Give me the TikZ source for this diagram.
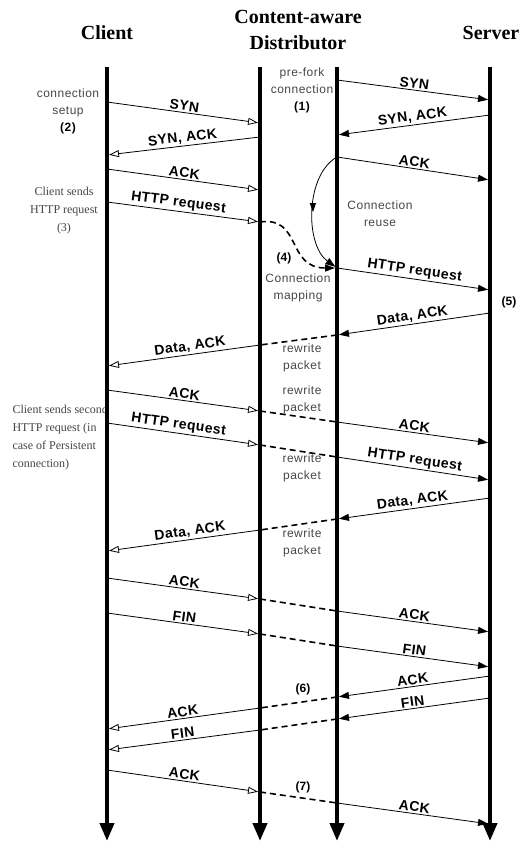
\documentclass[tikz,border=0pt]{standalone}
\usepackage{fontspec}
\setmainfont{Liberation Serif}
\setsansfont{Liberation Sans}
\newfontfamily\labelfont[LetterSpace=3]{Liberation Sans}
\newfontfamily\notefont[LetterSpace=4]{Liberation Sans}
\usetikzlibrary{arrows.meta,decorations.markings}
\definecolor{notegray}{RGB}{70,70,70}

\begin{document}
\begin{tikzpicture}[x=1pt, y=-1pt,
    title/.style={font=\bfseries\fontsize{20}{26}\selectfont, align=center},
    lifeline/.style={line width=4pt, -{Triangle[length=18pt, width=14pt]}},
    msg/.style={line width=0.8pt, shorten >=2pt, -{Triangle[length=10pt, width=7pt]}},
    openmsg/.style={line width=0.8pt, shorten >=2pt, -{Triangle[length=10pt, width=7pt, fill=white]}},
    relay/.style={line width=1.6pt, dash pattern=on 6pt off 4pt},
    lbl/.style={font=\labelfont\bfseries\fontsize{14}{16}\selectfont, sloped, above, inner sep=1.5pt},
    note/.style={font=\notefont\fontsize{12}{17}\selectfont, text=notegray, align=center},
    serifnote/.style={font=\fontsize{12}{18}\selectfont, text=notegray},
    tag/.style={font=\sffamily\bfseries\fontsize{12}{14}\selectfont}
]
\useasboundingbox (0,0) rectangle (522,841);

% Titles
\node[title] (tclient) at (107,33) {Client};
\node[title] (tdist) at (298,30) {Content-aware\\Distributor};
\node[title] (tserver) at (491,33) {Server};

% Lifeline ends
\coordinate (cl-top) at (107,67); \coordinate (cl-end) at (107,841);
\coordinate (dl-top) at (260,67); \coordinate (dl-end) at (260,841);
\coordinate (dr-top) at (337,67); \coordinate (dr-end) at (337,841);
\coordinate (sv-top) at (490,67); \coordinate (sv-end) at (490,841);

% Client side points
\coordinate (c1) at (107,102); \coordinate (c2) at (107,155); \coordinate (c3) at (107,169);
\coordinate (c4) at (107,202); \coordinate (c5) at (107,366); \coordinate (c6) at (107,390);
\coordinate (c7) at (107,423); \coordinate (c8) at (107,551); \coordinate (c9) at (107,578);
\coordinate (c10) at (107,613); \coordinate (c11) at (107,729); \coordinate (c12) at (107,750);
\coordinate (c13) at (107,770);

% Distributor, client side
\coordinate (l1) at (260,123); \coordinate (l2) at (260,137); \coordinate (l3) at (260,190);
\coordinate (l4) at (260,222); \coordinate (l5) at (260,345); \coordinate (l6) at (260,411);
\coordinate (l7) at (260,445); \coordinate (l8) at (260,530); \coordinate (l9) at (260,599);
\coordinate (l10) at (260,634); \coordinate (l11) at (260,708); \coordinate (l12) at (260,730);
\coordinate (l13) at (260,792);

% Distributor, server side
\coordinate (r1) at (337,80); \coordinate (r2) at (337,135); \coordinate (r3) at (337,157);
\coordinate (r4) at (337,268); \coordinate (r5) at (337,335); \coordinate (r6) at (337,422);
\coordinate (r7) at (337,457); \coordinate (r8) at (337,519); \coordinate (r9) at (337,611);
\coordinate (r10) at (337,646); \coordinate (r11) at (337,697); \coordinate (r12) at (337,719);
\coordinate (r13) at (337,803);

% Server side points
\coordinate (s1) at (490,100); \coordinate (s2) at (490,115); \coordinate (s3) at (490,180);
\coordinate (s4) at (490,290); \coordinate (s5) at (490,313); \coordinate (s6) at (490,443);
\coordinate (s7) at (490,480); \coordinate (s8) at (490,498); \coordinate (s9) at (490,632);
\coordinate (s10) at (490,667); \coordinate (s11) at (490,676); \coordinate (s12) at (490,698);
\coordinate (s13) at (490,824);

% Notes
\node[note] (setup) at (68,111) {connection\\setup\\{\color{black}\bfseries(2)}};
\node[note] (prefork) at (302,90) {pre-fork\\connection\\{\color{black}\bfseries(1)}};
\node[serifnote, align=center] (sends) at (64,211) {Client sends\\HTTP request\\(3)};
\node[serifnote, anchor=west, align=left] (second) at (9,438) {Client sends second\\HTTP request (in\\case of Persistent\\connection)};
\node[note] (reuse) at (380,214) {Connection\\reuse};
\node[note] (mapping) at (298,288) {Connection\\mapping};
\node[note] (rw1) at (302,358) {rewrite\\packet};
\node[note] (rw2) at (302,400) {rewrite\\packet};
\node[note] (rw3) at (302,468) {rewrite\\packet};
\node[note] (rw4) at (302,543) {rewrite\\packet};
\node[tag] (n4) at (284,258) {(4)};
\node[tag] (n5) at (509,302) {(5)};
\node[tag] (n6) at (303,689) {(6)};
\node[tag] (n7) at (303,787) {(7)};

% Connection setup
\draw[msg] (r1) -- node[lbl]{SYN} (s1);
\draw[openmsg] (c1) -- node[lbl]{SYN} (l1);
\draw[msg] (s2) -- node[lbl]{SYN, ACK} (r2);
\draw[openmsg] (l2) -- node[lbl]{SYN, ACK} (c2);
\draw[msg] (r3) -- node[lbl]{ACK} (s3);
\draw[openmsg] (c3) -- node[lbl]{ACK} (l3);
\draw[openmsg] (c4) -- node[lbl, pos=0.46]{HTTP request} (l4);

% Reuse and mapping
\fill (r3) circle (1.5pt);
\draw[msg, postaction={decorate}, decoration={markings, mark=at position 0.5 with {\arrow{Triangle[length=9pt, width=6pt]}}}]
    (r3) .. controls (305,175) and (305,245) .. (r4);
\draw[relay, shorten >=2pt, -{Triangle[length=10pt, width=7pt]}] (l4) .. controls (302,216) and (286,268) .. (r4);
\draw[msg] (r4) -- node[lbl]{HTTP request} (s4);

% First response
\draw[msg] (s5) -- node[lbl]{Data, ACK} (r5);
\draw[relay] (r5) -- (l5);
\draw[openmsg] (l5) -- node[lbl, pos=0.45]{Data, ACK} (c5);

% ACK and second request
\draw[openmsg] (c6) -- node[lbl]{ACK} (l6);
\draw[relay] (l6) -- (r6);
\draw[msg] (r6) -- node[lbl]{ACK} (s6);
\draw[openmsg] (c7) -- node[lbl, pos=0.46]{HTTP request} (l7);
\draw[relay] (l7) -- (r7);
\draw[msg] (r7) -- node[lbl]{HTTP request} (s7);

% Second response
\draw[msg] (s8) -- node[lbl]{Data, ACK} (r8);
\draw[relay] (r8) -- (l8);
\draw[openmsg] (l8) -- node[lbl, pos=0.45]{Data, ACK} (c8);

% Teardown
\draw[openmsg] (c9) -- node[lbl]{ACK} (l9);
\draw[relay] (l9) -- (r9);
\draw[msg] (r9) -- node[lbl]{ACK} (s9);
\draw[openmsg] (c10) -- node[lbl]{FIN} (l10);
\draw[relay] (l10) -- (r10);
\draw[msg] (r10) -- node[lbl]{FIN} (s10);
\draw[msg] (s11) -- node[lbl]{ACK} (r11);
\draw[relay] (r11) -- (l11);
\draw[openmsg] (l11) -- node[lbl]{ACK} (c11);
\draw[msg] (s12) -- node[lbl]{FIN} (r12);
\draw[relay] (r12) -- (l12);
\draw[openmsg] (l12) -- node[lbl]{FIN} (c12);
\draw[openmsg] (c13) -- node[lbl]{ACK} (l13);
\draw[relay] (l13) -- (r13);
\draw[msg] (r13) -- node[lbl]{ACK} (s13);

% Lifelines
\draw[lifeline] (cl-top) -- (cl-end);
\draw[lifeline] (dl-top) -- (dl-end);
\draw[lifeline] (dr-top) -- (dr-end);
\draw[lifeline] (sv-top) -- (sv-end);

\end{tikzpicture}
\end{document}
